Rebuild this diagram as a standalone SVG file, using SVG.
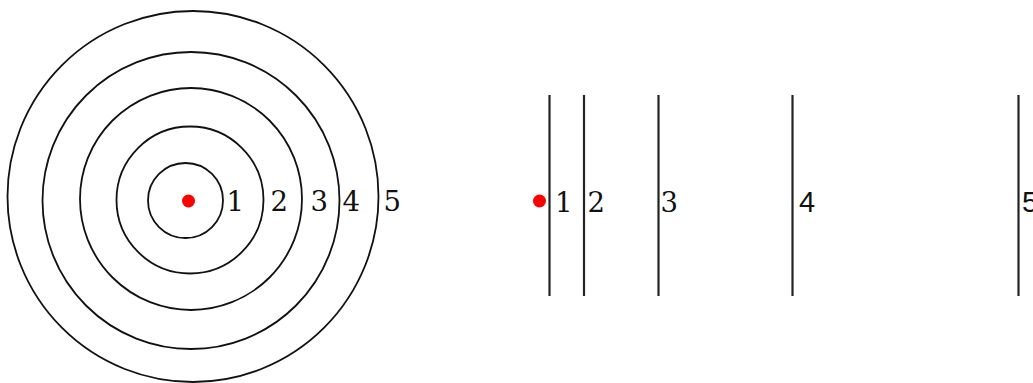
<svg xmlns="http://www.w3.org/2000/svg" width="1033" height="383" viewBox="0 0 1033 383">
  <style>
    .ring { fill: none; stroke: #111; stroke-width: 1.8; }
    .wall { stroke: #222; stroke-width: 2.2; }
    .dot { fill: #f00; }
    .lbl { font-family: "DejaVu Serif", "Liberation Serif", serif; font-size: 27.5px; fill: #111; }
    .lbls { font-family: "Liberation Sans", Arial, sans-serif; font-size: 29px; fill: #111; }
  </style>
  <rect width="1033" height="383" fill="#fff"/>
  <g id="circles">
    <circle class="ring" cx="185.5" cy="200.5" r="37.5"/>
    <circle class="ring" cx="190" cy="200" r="73.5"/>
    <circle class="ring" cx="191" cy="199" r="111"/>
    <circle class="ring" cx="191" cy="200.5" r="148.5"/>
    <circle class="ring" cx="193" cy="196.5" r="185.5"/>
    <circle class="dot" cx="188.5" cy="201" r="6.5"/>
    <text class="lbl" x="226.5" y="211">1</text>
    <text class="lbl" x="270.5" y="211">2</text>
    <text class="lbl" x="310.5" y="211">3</text>
    <text class="lbl" x="342.5" y="211">4</text>
    <text class="lbl" x="383.5" y="211">5</text>
  </g>
  <g id="planes">
    <line class="wall" x1="549.5" y1="95" x2="549.5" y2="296"/>
    <line class="wall" x1="584" y1="95" x2="584" y2="296"/>
    <line class="wall" x1="658.5" y1="95" x2="658.5" y2="296"/>
    <line class="wall" x1="792.5" y1="95" x2="792.5" y2="296"/>
    <line class="wall" x1="1018.5" y1="95" x2="1018.5" y2="296"/>
    <circle class="dot" cx="539.5" cy="201" r="6.5"/>
    <text class="lbl" x="555" y="211.5">1</text>
    <text class="lbl" x="587.5" y="211.5">2</text>
    <text class="lbl" x="660.5" y="211.5">3</text>
    <text class="lbls" x="799" y="212">4</text>
    <text class="lbls" x="1022" y="212">5</text>
  </g>
</svg>
